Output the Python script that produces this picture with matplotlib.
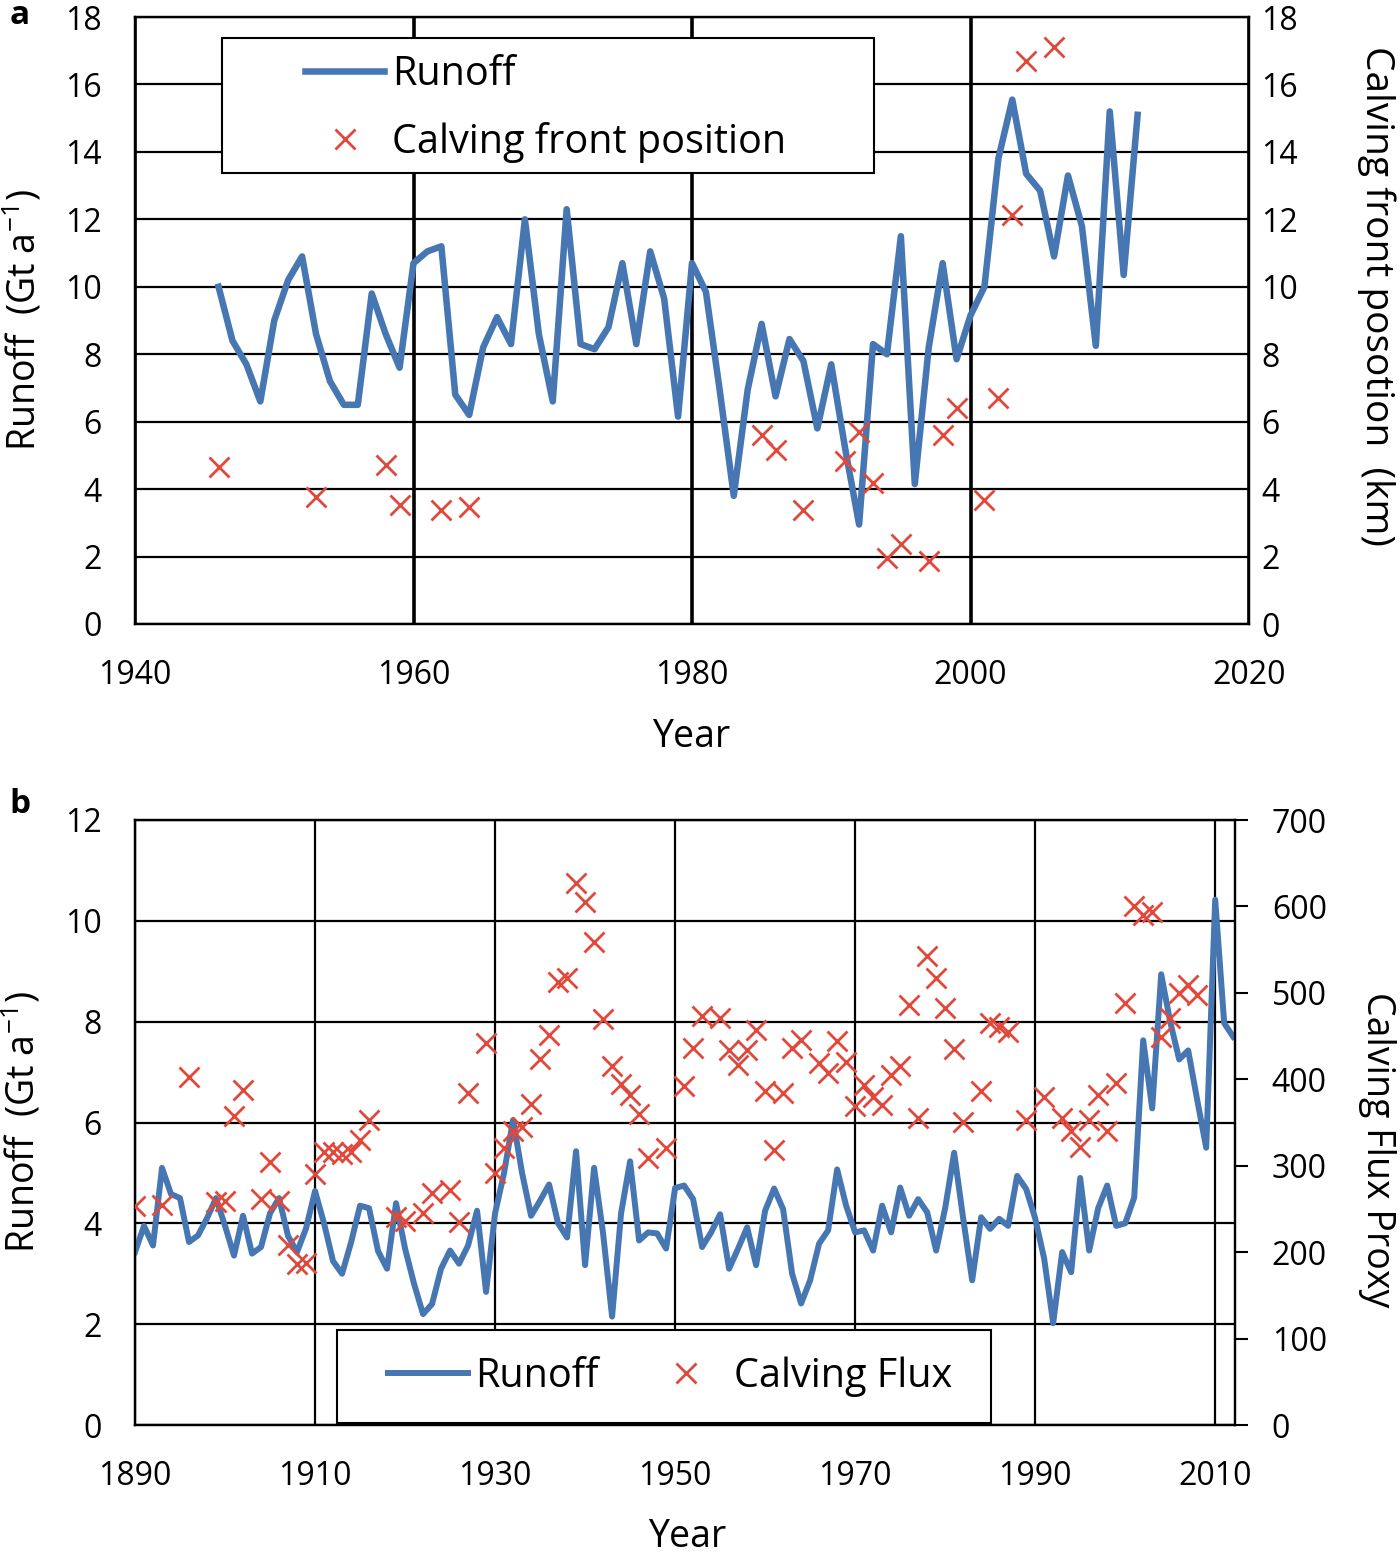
import matplotlib

matplotlib.use("Agg")
import matplotlib.pyplot as plt
from matplotlib.lines import Line2D
from matplotlib.patches import Rectangle

plt.rcParams["font.family"] = ["Open Sans", "DejaVu Sans"]

BLUE = "#4677B2"
RED = "#E0483B"

# ---- panel a: runoff 1946-2012 and calving front position ----
years_a = list(range(1946, 2013))
runoff_a = [
    10.0, 8.4, 7.7, 6.6,                                       # 1946-1949
    9.0, 10.2, 10.9, 8.6, 7.2, 6.5, 6.5, 9.8, 8.6, 7.6,          # 1950s
    10.7, 11.05, 11.2, 6.8, 6.2, 8.2, 9.1, 8.3, 12.0, 8.6,       # 1960s
    6.6, 12.3, 8.3, 8.15, 8.8, 10.7, 8.3, 11.05, 9.65, 6.15,     # 1970s
    10.7, 9.85, 6.9, 3.8, 6.95, 8.9, 6.75, 8.45, 7.8, 5.8,       # 1980s
    7.7, 5.2, 2.95, 8.3, 8.0, 11.5, 4.15, 8.2, 10.7, 7.85,       # 1990s
    9.15, 10.0, 13.8, 15.55, 13.35, 12.85, 10.9, 13.3, 11.8, 8.25,  # 2000s
    15.2, 10.35, 15.1,                                         # 2010-2012
]
front_years = [1946, 1953, 1958, 1959, 1962, 1964, 1985, 1986, 1988, 1991, 1992,
               1993, 1994, 1995, 1997, 1998, 1999, 2001, 2002, 2003, 2004, 2006]
front_km = [4.65, 3.78, 4.72, 3.53, 3.38, 3.48, 5.6, 5.15, 3.37, 4.84, 5.68,
            4.19, 1.96, 2.36, 1.87, 5.59, 6.42, 3.69, 6.7, 12.14, 16.7, 17.1]

# ---- panel b: runoff 1890-2012 and calving flux proxy ----
years_b = list(range(1890, 2013))
runoff_b = [
    3.43, 3.95, 3.56, 5.1, 4.58, 4.5, 3.63, 3.76, 4.1, 4.5,      # 1890s
    3.95, 3.36, 4.15, 3.4, 3.53, 4.2, 4.5, 3.75, 3.43, 3.9,      # 1900s
    4.64, 4.0, 3.25, 3.0, 3.62, 4.35, 4.3, 3.45, 3.1, 4.4,       # 1910s
    3.5, 2.8, 2.2, 2.4, 3.1, 3.46, 3.2, 3.56, 4.25, 2.64,        # 1920s
    4.2, 5.0, 6.05, 5.0, 4.15, 4.45, 4.77, 4.0, 3.72, 5.43,      # 1930s
    3.17, 5.1, 3.8, 2.15, 4.2, 5.23, 3.66, 3.82, 3.8, 3.5,       # 1940s
    4.7, 4.75, 4.48, 3.53, 3.82, 4.18, 3.1, 3.5, 3.92, 3.17,     # 1950s
    4.25, 4.69, 4.28, 3.0, 2.41, 2.87, 3.6, 3.86, 5.07, 4.35,    # 1960s
    3.82, 3.86, 3.46, 4.35, 3.82, 4.71, 4.15, 4.48, 4.22, 3.46,  # 1970s
    4.3, 5.4, 4.1, 2.87, 4.12, 3.89, 4.09, 3.95, 4.94, 4.68,     # 1980s
    4.1, 3.3, 2.02, 3.43, 3.03, 4.9, 3.46, 4.3, 4.75, 3.95,      # 1990s
    4.0, 4.51, 7.63, 6.28, 8.94, 8.0, 7.25, 7.43, 6.45, 5.5,     # 2000s
    10.42, 7.97, 7.7,                                          # 2010-2012
]
flux_years = [
    1890, 1893, 1896, 1899, 1900, 1901, 1902, 1904, 1905, 1906, 1907, 1908, 1909,
    1910, 1911, 1912, 1913, 1914, 1915, 1916, 1919, 1920, 1922, 1923, 1925, 1926,
    1927, 1929, 1930, 1931, 1932, 1933, 1934, 1935, 1936, 1937, 1938, 1939, 1940,
    1941, 1942, 1943, 1944, 1945, 1946, 1947, 1949, 1951, 1952, 1953, 1955, 1956,
    1957, 1958, 1959, 1960, 1961, 1962, 1963, 1964, 1966, 1967, 1968, 1969, 1970,
    1971, 1972, 1973, 1974, 1975, 1976, 1977, 1978, 1979, 1980, 1981, 1982, 1984,
    1985, 1986, 1987, 1989, 1991, 1993, 1994, 1995, 1996, 1997, 1998, 1999, 2000,
    2001, 2002, 2003, 2004, 2005, 2006, 2007, 2008,
]
flux_proxy = [
    253, 255, 403, 258, 259, 357, 388, 262, 304, 259, 208, 186, 187,
    290, 316, 316, 313, 316, 330, 353, 241, 236, 245, 268, 272, 235,
    384, 442, 291, 320, 340, 345, 371, 423, 451, 513, 517, 627, 605,
    559, 470, 415, 395, 382, 360, 309, 320, 392, 436, 473, 471, 434,
    417, 434, 457, 386, 318, 384, 436, 446, 419, 407, 444, 420, 369,
    393, 380, 370, 405, 415, 486, 355, 543, 517, 482, 435, 351, 386,
    465, 461, 455, 353, 380, 355, 340, 322, 353, 382, 340, 396, 488,
    600, 590, 594, 449, 471, 500, 509, 498,
]

W, H = 1400, 1557
TICK_FS = 23
LABEL_FS = 27
LEGEND_FS = 28.5
LEFT_LABEL = "Runoff  (Gt a$^{\\mathregular{-1}}$)"


def style_axis(ax) -> None:
    for sp in ax.spines.values():
        sp.set_color("black")
        sp.set_linewidth(1.6)


def boxed_legend(ax, handles, labels, anchor, box, ncol=1) -> None:
    ax.add_patch(Rectangle(box[:2], box[2], box[3], transform=ax.transAxes,
                           facecolor="white", edgecolor="black", lw=1.5, zorder=4))
    leg = ax.legend(handles, labels, loc="center left", bbox_to_anchor=anchor,
                    frameon=False, fontsize=LEGEND_FS, handlelength=2.0,
                    handletextpad=0.2, labelspacing=0.68, borderpad=0,
                    borderaxespad=0, ncol=ncol, columnspacing=1.2)
    leg.set_zorder(5)


fig = plt.figure(figsize=(W / 100, H / 100), dpi=100)

# ------------------------------ panel a ------------------------------
ax_a = fig.add_axes([135 / W, 1 - 624 / H, 1114 / W, 607 / H])
ax_a.plot(years_a, runoff_a, color=BLUE, lw=4.7, zorder=3)
ax_a.set_xlim(1940, 2020)
ax_a.set_ylim(0, 18)
ax_a.set_xticks(range(1940, 2021, 20))
ax_a.set_yticks(range(0, 19, 2))
ax_a.set_axisbelow(True)
ax_a.yaxis.grid(True, color="black", lw=1.6)
ax_a.xaxis.grid(True, color="black", lw=2.6)
ax_a.tick_params(axis="both", length=0, labelsize=TICK_FS)
ax_a.tick_params(axis="x", pad=25.5)
ax_a.tick_params(axis="y", pad=24)
ax_a.set_xlabel("Year", fontsize=LABEL_FS, va="center")
ax_a.xaxis.set_label_coords(0.499, -0.186)
ax_a.set_ylabel(LEFT_LABEL, fontsize=LABEL_FS, va="center")
ax_a.yaxis.set_label_coords(-0.101, 0.5)
style_axis(ax_a)

ax_a2 = ax_a.twinx()
ax_a2.plot(front_years, front_km, ls="none", marker="x", ms=14, mew=2.0, color=RED, zorder=3)
ax_a2.set_ylim(0, 18)
ax_a2.set_yticks(range(0, 19, 2))
ax_a2.tick_params(axis="y", length=0, labelsize=TICK_FS, pad=9)
ax_a2.set_ylabel("Calving front posotion  (km)", fontsize=28, rotation=-90,
                 va="center", ha="center")
ax_a2.yaxis.set_label_coords(1.114, 0.54)
style_axis(ax_a2)

handles_a = [Line2D([], [], color=BLUE, lw=4.7),
             Line2D([], [], ls="none", marker="x", ms=14, mew=2.0, color=RED)]
boxed_legend(ax_a2, handles_a, ["Runoff", "Calving front position"],
             anchor=(0.1526, 0.849), box=(0.078, 0.743, 0.585, 0.222))

# ------------------------------ panel b ------------------------------
ax_b = fig.add_axes([135 / W, 1 - 1425 / H, 1100 / W, 605 / H])
ax_b.plot(years_b, runoff_b, color=BLUE, lw=4.3, zorder=3)
ax_b.set_xlim(1890, 2012.2)
ax_b.set_ylim(0, 12)
ax_b.set_xticks(range(1890, 2011, 20))
ax_b.set_yticks(range(0, 13, 2))
ax_b.set_axisbelow(True)
ax_b.grid(True, color="black", lw=1.6)
ax_b.tick_params(axis="both", length=0, labelsize=TICK_FS)
ax_b.tick_params(axis="x", pad=25.5)
ax_b.tick_params(axis="y", pad=24)
ax_b.set_xlabel("Year", fontsize=LABEL_FS, va="center")
ax_b.xaxis.set_label_coords(0.502, -0.185)
ax_b.set_ylabel(LEFT_LABEL, fontsize=LABEL_FS, va="center")
ax_b.yaxis.set_label_coords(-0.103, 0.5)
style_axis(ax_b)

ax_b2 = ax_b.twinx()
ax_b2.plot(flux_years, flux_proxy, ls="none", marker="x", ms=14, mew=2.0, color=RED, zorder=3)
ax_b2.set_ylim(0, 700)
ax_b2.set_yticks(range(0, 701, 100))
ax_b2.tick_params(axis="y", direction="out", length=9.5, width=1.5,
                  labelsize=TICK_FS, pad=17)
ax_b2.set_ylabel("Calving Flux Proxy", fontsize=LABEL_FS, rotation=-90,
                 va="center", ha="center")
ax_b2.yaxis.set_label_coords(1.129, 0.455)
style_axis(ax_b2)

handles_b = [Line2D([], [], color=BLUE, lw=4.3),
             Line2D([], [], ls="none", marker="x", ms=14, mew=2.0, color=RED)]
boxed_legend(ax_b2, handles_b, ["Runoff", "Calving Flux"],
             anchor=(0.2304, 0.0793), box=(0.184, 0.0033, 0.594, 0.154), ncol=2)

fig.text(20 / W, 1 - 16 / H, "a", fontsize=24, fontweight="bold", ha="center", va="center")
fig.text(20 / W, 1 - 804 / H, "b", fontsize=24, fontweight="bold", ha="center", va="center")

fig.savefig("out.png", dpi=100)
plt.close(fig)
